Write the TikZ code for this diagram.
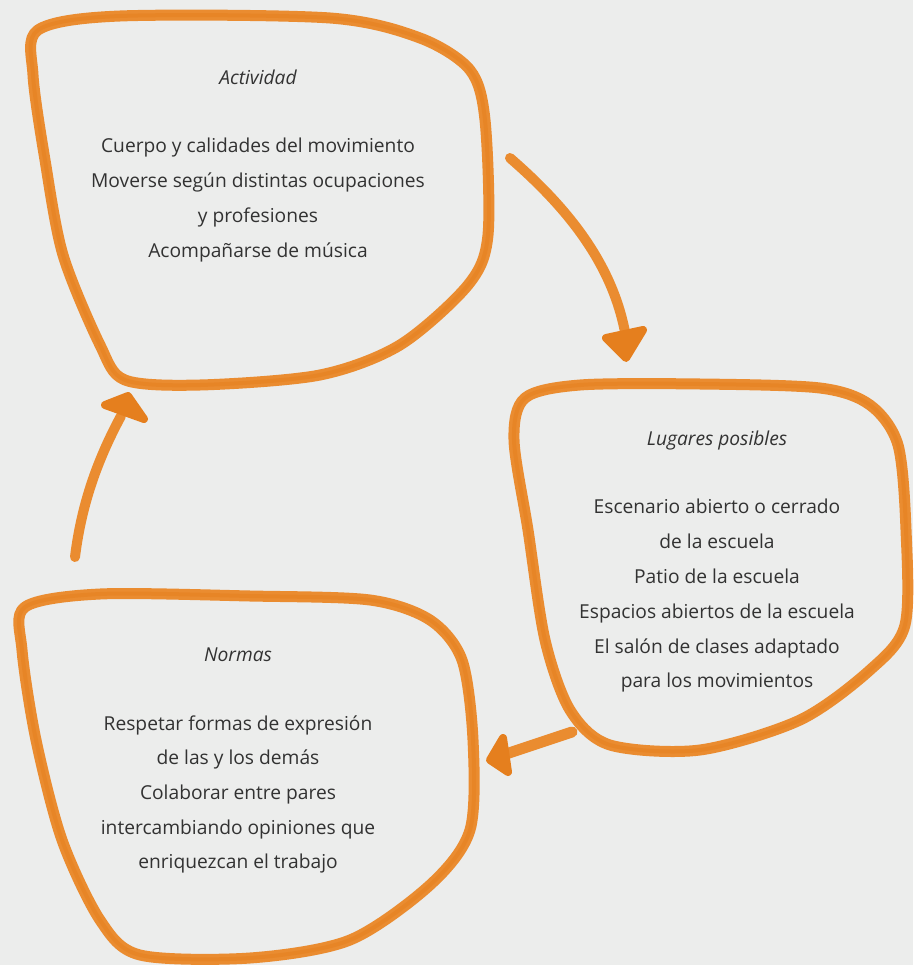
\documentclass[tikz,border=0pt]{standalone}
\usepackage{fontspec}
\setmainfont{Open Sans}
\definecolor{bg}{RGB}{236,237,236}
\definecolor{org}{RGB}{234,140,48}
\definecolor{orgd}{RGB}{229,127,30}
\definecolor{txt}{RGB}{50,50,50}
\begin{document}
\begin{tikzpicture}[x=1pt,y=-1pt,
  blob/.style={draw=org,line width=11pt,line join=round,line cap=round},
  blobin/.style={draw=orgd,line width=4pt,line join=round,line cap=round,opacity=0.5},
  shaft/.style={draw=org,line width=10pt,line cap=round},
  head/.style={draw=orgd,fill=orgd,line width=8pt,line join=round},
  ttl/.style={font=\fontsize{19.2}{23}\selectfont\itshape,text=txt,anchor=base,inner sep=0pt},
  body/.style={font=\fontsize{19.2}{23}\selectfont,text=txt,anchor=base,inner sep=0pt}]
\fill[bg] (0,0) rectangle (913,965);
\useasboundingbox (0,0) rectangle (913,965);

\def\blobA{(38,30) (120,16) (330,18) (420,38) (470,70) (485,120) (488,235) (468,285) (400,345) (320,375) (200,385) (125,380) (100,345) (63,255) (45,160) (33,75)}
\def\blobB{(525,398) (580,385) (700,384) (820,388) (870,405) (898,445) (906,530) (905,625) (870,670) (800,720) (700,750) (610,745) (570,710) (545,640) (528,530) (514,440)}
\def\blobC{(25,607) (100,594) (250,596) (370,600) (430,620) (462,660) (473,740) (470,830) (430,885) (350,940) (250,958) (140,955) (100,920) (62,840) (36,740) (22,650)}

% blob 1 : Actividad
\draw[blob] plot[smooth cycle,tension=0.5] coordinates {\blobA};
\draw[blobin] plot[smooth cycle,tension=0.5] coordinates {\blobA};
% blob 2 : Lugares posibles
\draw[blob] plot[smooth cycle,tension=0.5] coordinates {\blobB};
\draw[blobin] plot[smooth cycle,tension=0.5] coordinates {\blobB};
% blob 3 : Normas
\draw[blob] plot[smooth cycle,tension=0.5] coordinates {\blobC};
\draw[blobin] plot[smooth cycle,tension=0.5] coordinates {\blobC};

% arrows
\coordinate (a1s) at (510,158);
\coordinate (a1e) at (625,332);
\coordinate (a2s) at (572,732);
\coordinate (a2e) at (506,754);
\coordinate (a3s) at (75,557);
\coordinate (a3e) at (121,416);
\draw[shaft] (a1s) .. controls (570,210) and (612,265) .. (a1e);
\draw[head] (606,338) -- (643,330) -- (626,358) -- cycle;
\draw[shaft,line width=11pt] (a2s) -- (a2e);
\draw[head] (503,738) -- (508,772) -- (490,760) -- cycle;
\draw[shaft] (a3s) .. controls (82,500) and (100,455) .. (a3e);
\draw[head] (105,405) -- (144,419) -- (128,396) -- cycle;

% texts
\node[ttl] (t1) at (258,85) {Actividad};
\node[body] (b1a) at (258,153) {Cuerpo y calidades del movimiento};
\node[body] (b1b) at (258,188) {Moverse según distintas ocupaciones};
\node[body] (b1c) at (258,223) {y profesiones};
\node[body] (b1d) at (258,258) {Acompañarse de música};

\node[ttl] (t2) at (717,445) {Lugares posibles};
\node[body] (b2a) at (717,513) {Escenario abierto o cerrado};
\node[body] (b2b) at (717,548) {de la escuela};
\node[body] (b2c) at (717,583) {Patio de la escuela};
\node[body] (b2d) at (717,618) {Espacios abiertos de la escuela};
\node[body] (b2e) at (717,653) {El salón de clases adaptado};
\node[body] (b2f) at (717,687) {para los movimientos};

\node[ttl] (t3) at (238,661) {Normas};
\node[body] (b3a) at (238,730) {Respetar formas de expresión};
\node[body] (b3b) at (238,764) {de las y los demás};
\node[body] (b3c) at (238,799) {Colaborar entre pares};
\node[body] (b3d) at (238,834) {intercambiando opiniones que};
\node[body] (b3e) at (238,868) {enriquezcan el trabajo};
\end{tikzpicture}
\end{document}
